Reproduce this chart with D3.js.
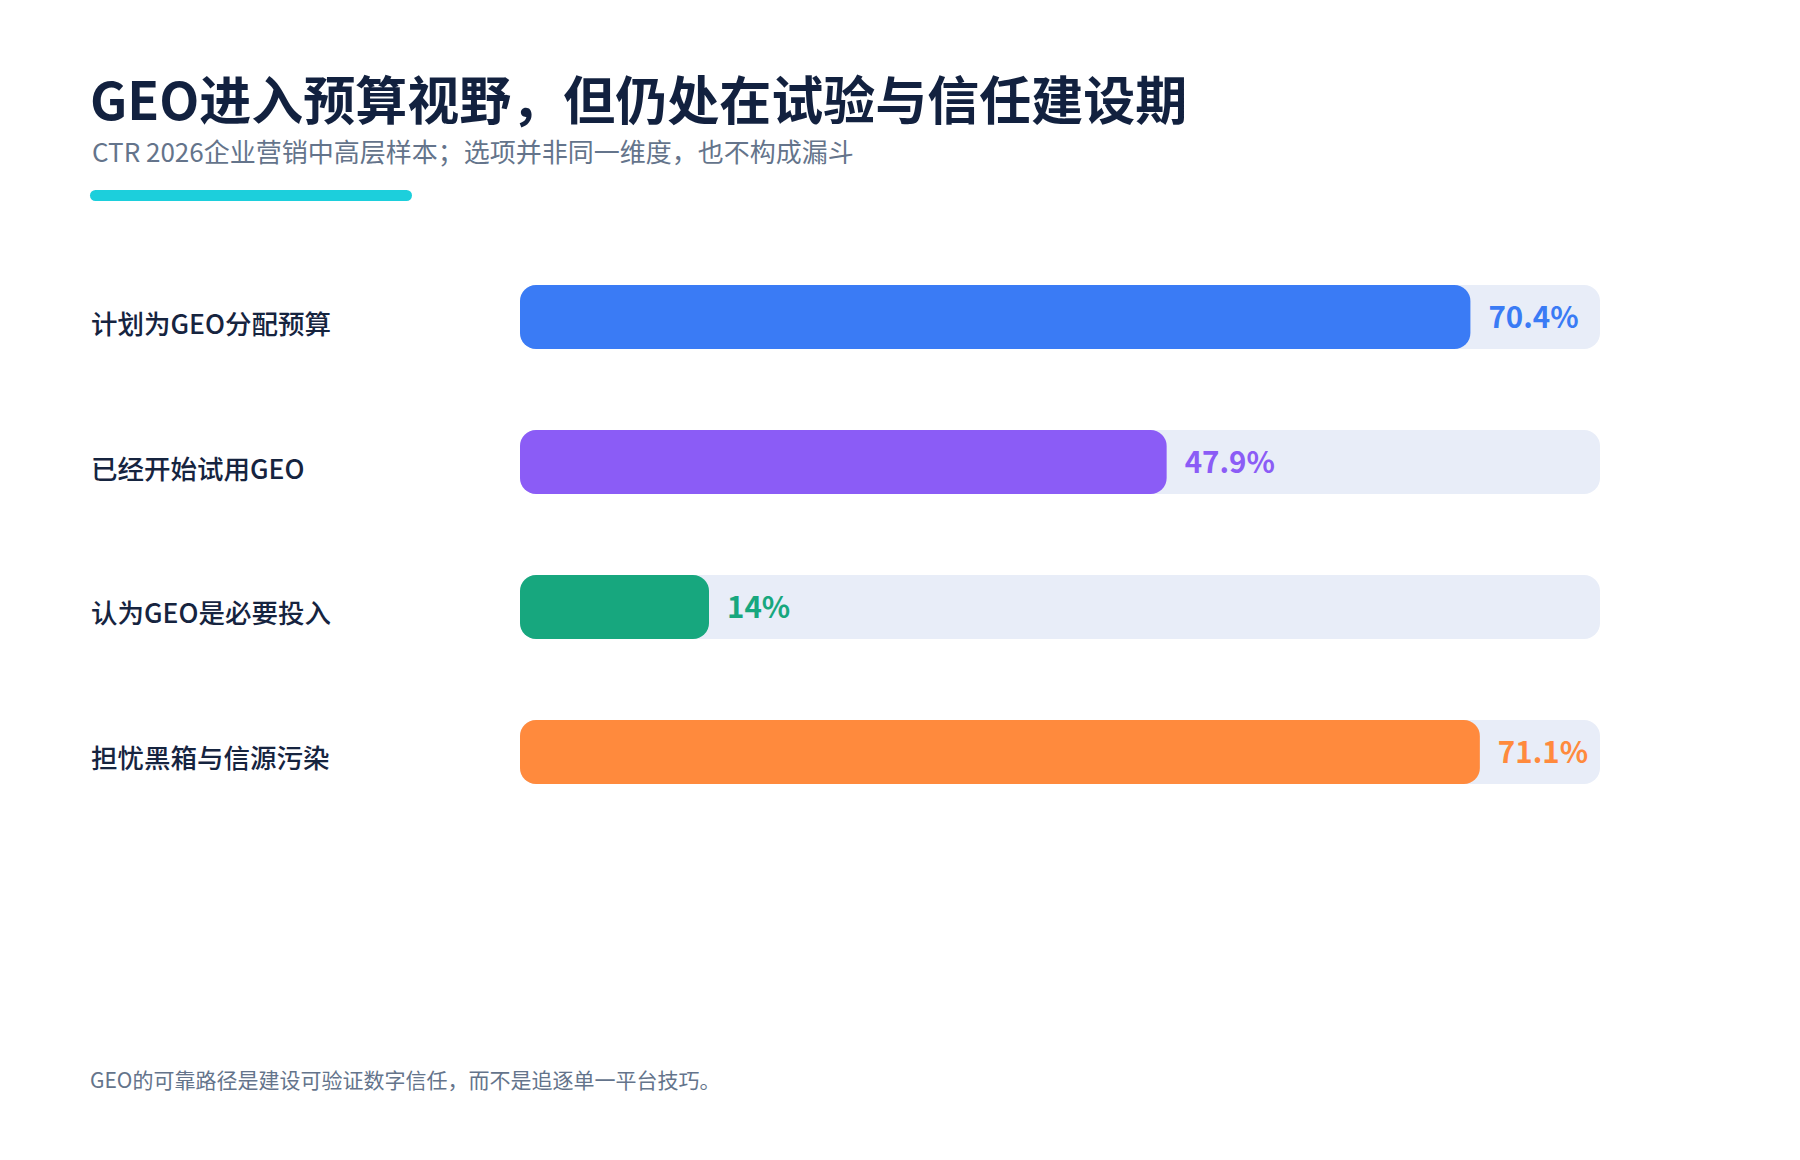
<!DOCTYPE html>
<html lang="zh">
<head>
    <meta charset="UTF-8">
    <title>GEO进入预算视野</title>
    <script src="https://d3js.org/d3.v7.min.js"></script>
    <style>
        body { margin: 0; background: #fff; }
        text { font-family: "Noto Sans CJK SC", "Noto Sans", sans-serif; }
    </style>
</head>
<body>
    <script>
        // Data
        const categories = ["计划为GEO分配预算", "已经开始试用GEO", "认为GEO是必要投入", "担忧黑箱与信源污染"];
        const values = [70.4, 47.9, 14, 71.1];
        const valueLabels = ["70.4%", "47.9%", "14%", "71.1%"];
        const colors = ["#3a7bf5", "#8b5cf6", "#17a77e", "#ff8a3d"];

        const width = 1800, height = 1160;

        const svg = d3.select("body").append("svg")
            .attr("width", width)
            .attr("height", height);

        // Title block
        svg.append("text")
            .attr("x", 90).attr("y", 120)
            .attr("font-size", 52).attr("font-weight", 700)
            .attr("fill", "#12213f")
            .text("GEO进入预算视野，但仍处在试验与信任建设期");

        svg.append("text")
            .attr("x", 92).attr("y", 162)
            .attr("font-size", 26).attr("font-weight", 400)
            .attr("fill", "#64748b")
            .text("CTR 2026企业营销中高层样本；选项并非同一维度，也不构成漏斗");

        svg.append("rect")
            .attr("x", 90).attr("y", 190)
            .attr("width", 322).attr("height", 11)
            .attr("rx", 5.5)
            .attr("fill", "#1ccfdc");

        // Scales
        const x = d3.scaleLinear().domain([0, 80]).range([520, 1600]);
        const y = d3.scaleBand().domain(categories).range([285, 784]).paddingInner(0.5586).paddingOuter(0);

        const rows = svg.selectAll(".row")
            .data(categories)
            .enter().append("g")
            .attr("class", "row");

        // Background track
        rows.append("rect")
            .attr("x", x(0))
            .attr("y", d => y(d))
            .attr("width", x(80) - x(0))
            .attr("height", y.bandwidth())
            .attr("rx", 16)
            .attr("fill", "#e8edf8");

        // Value bars
        rows.append("rect")
            .attr("x", x(0))
            .attr("y", d => y(d))
            .attr("width", (d, i) => x(values[i]) - x(0))
            .attr("height", y.bandwidth())
            .attr("rx", 16)
            .attr("fill", (d, i) => colors[i]);

        // Category labels
        rows.append("text")
            .attr("x", 91)
            .attr("y", d => y(d) + y.bandwidth() / 2 + 5)
            .attr("dominant-baseline", "central")
            .attr("font-size", 26.5).attr("font-weight", 500)
            .attr("fill", "#16243f")
            .text(d => d);

        // Value labels
        rows.append("text")
            .attr("x", (d, i) => x(values[i]) + 18)
            .attr("y", d => y(d) + y.bandwidth() / 2 - 2)
            .attr("dominant-baseline", "central")
            .attr("font-size", 29.5).attr("font-weight", 700)
            .attr("fill", (d, i) => colors[i])
            .text((d, i) => valueLabels[i]);

        // Footnote
        svg.append("text")
            .attr("x", 90).attr("y", 1088)
            .attr("font-size", 21)
            .attr("fill", "#64748b")
            .text("GEO的可靠路径是建设可验证数字信任，而不是追逐单一平台技巧。");
    </script>
</body>
</html>
